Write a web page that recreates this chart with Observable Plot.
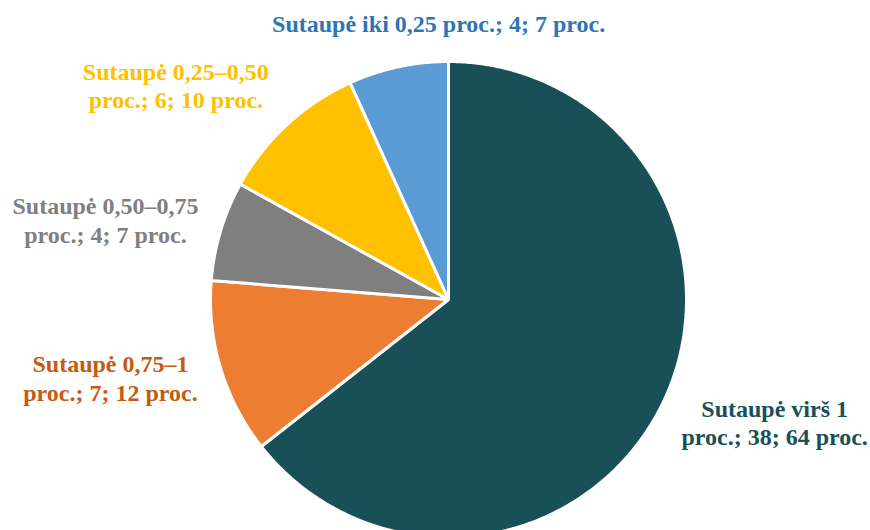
<!DOCTYPE html>
<html>
<head>
<meta charset="utf-8">
<script src="https://cdn.jsdelivr.net/npm/d3@7"></script>
<script src="https://cdn.jsdelivr.net/npm/@observablehq/plot@0.6"></script>
<style>
  html, body { margin: 0; padding: 0; background: #fff; }
  #chart { width: 870px; height: 530px; }
  #chart text { font-family: "Liberation Serif", "Times New Roman", serif; }
</style>
</head>
<body>
<div id="chart"></div>
<script>
// ---- data ----
const categories = ["Sutaupė virš 1", "Sutaupė 0,75–1", "Sutaupė 0,50–0,75", "Sutaupė 0,25–0,50", "Sutaupė iki 0,25"];
const counts = [38, 7, 4, 6, 4];
const percents = [64, 12, 7, 10, 7];
const labelTexts = [
  "Sutaupė virš 1\nproc.; 38; 64 proc.",
  "Sutaupė 0,75–1\nproc.; 7; 12 proc.",
  "Sutaupė 0,50–0,75\nproc.; 4; 7 proc.",
  "Sutaupė 0,25–0,50\nproc.; 6; 10 proc.",
  "Sutaupė iki 0,25 proc.; 4; 7 proc."
];

// ---- styles ----
const sliceColors = ["#194f57", "#ed7d31", "#7f7f7f", "#ffc000", "#5b9bd5"];
const textColors = ["#194f57", "#c55a11", "#7f7f7f", "#ffc000", "#2e75b6"];
const labelOffsets = [[80, 3], [-76, -1], [-81, -1], [-87, -13], [48, -9]]; // px from anchor

// ---- geometry from data ----
const total = d3.sum(counts);
const slices = [];
let acc = 0;
counts.forEach((c, i) => {
  const a0 = acc / total * 2 * Math.PI;
  acc += c;
  const a1 = acc / total * 2 * Math.PI;
  slices.push({i, a0, a1, mid: (a0 + a1) / 2});
});

const pts = [];
for (const s of slices) {
  pts.push({cat: categories[s.i], x: 0, y: 0});
  const n = Math.max(8, Math.ceil((s.a1 - s.a0) / (Math.PI / 360)));
  for (let k = 0; k <= n; k++) {
    const a = s.a0 + (s.a1 - s.a0) * k / n;
    pts.push({cat: categories[s.i], x: Math.sin(a), y: Math.cos(a)});
  }
}

const labels = slices.map(s => ({
  cat: categories[s.i],
  text: labelTexts[s.i],
  x: 1.15 * Math.sin(s.mid),
  y: 1.15 * Math.cos(s.mid),
  dx: labelOffsets[s.i][0],
  dy: labelOffsets[s.i][1],
  color: textColors[s.i]
}));

const chart = Plot.plot({
  width: 870,
  height: 530,
  margin: 0,
  x: {domain: [-1, 1], range: [210, 686], axis: null},
  y: {domain: [-1, 1], range: [537, 61], axis: null},
  color: {domain: categories, range: sliceColors},
  style: {background: "#fff", fontFamily: "'Liberation Serif', 'Times New Roman', serif"},
  marks: [
    Plot.line(pts, {x: "x", y: "y", z: "cat", fill: "cat", stroke: "white", strokeWidth: 3, curve: "linear-closed", strokeLinejoin: "miter"}),
    ...labels.map(l => Plot.text([l], {
      x: "x", y: "y", text: "text", dx: l.dx, dy: l.dy,
      fill: l.color, fontSize: 24, fontWeight: "bold",
      fontFamily: "'Liberation Serif', 'Times New Roman', serif",
      lineHeight: 1.17, textAnchor: "middle"
    }))
  ]
});
document.getElementById("chart").appendChild(chart);
</script>
</body>
</html>
